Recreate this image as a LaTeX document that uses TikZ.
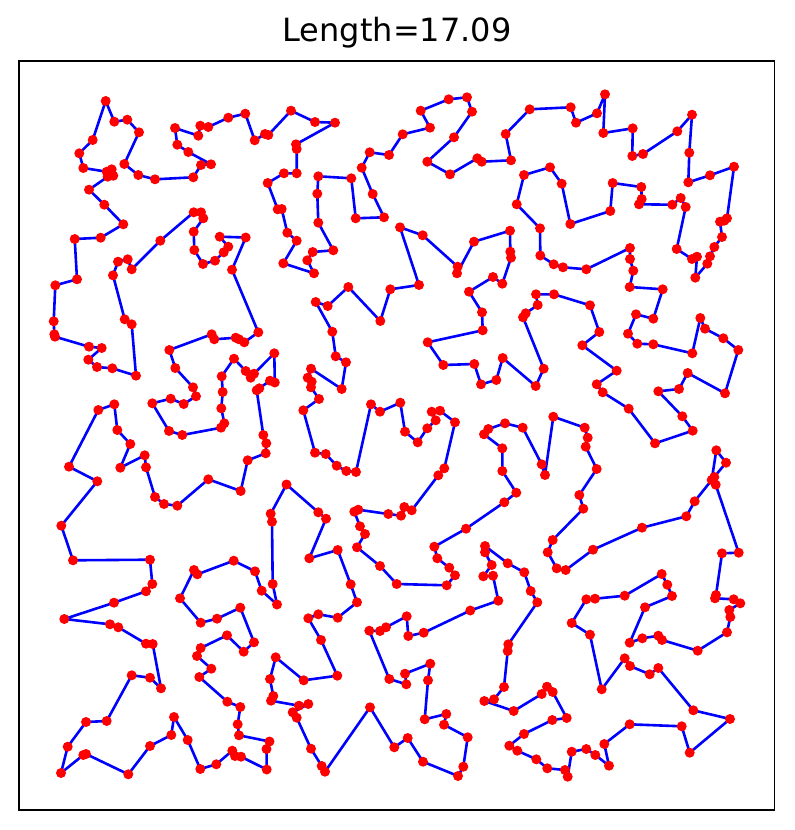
\documentclass[tikz,border=0pt]{standalone}
\usepackage{fontspec}
\setmainfont{DejaVu Sans}
\begin{document}
\def\pts{105.7/101, 114.3/121.7, 127.3/119.7, 139/132.3, 124.3/164, 138.3/175, 155/179.3, 193.3/177.3, 201/165, 211/164.3, 188.3/152, 177.3/144.7, 175/128, 198.3/135.7, 200.3/125.7, 208.3/127, 228.3/117.7, 245.3/113.7, 254.7/140.3, 265/134, 268.3/135, 291/110.7, 315/122, 335/122.7, 296/144.3, 296.7/149, 296.7/173.3, 284/173.3, 267.7/183, 277.7/209.3, 281.7/209, 287.3/232.7, 296.7/240.7, 283.3/263.3, 314/273.3, 307.3/260.3, 312.7/252, 333.3/250.3, 318.3/222.7, 317.3/193.7, 318.3/176.3, 351.3/178.3, 355.7/218.3, 384/217.3, 372.7/194, 361.7/167.7, 369.7/152.3, 389/155, 402.7/134.3, 430/127.7, 420.7/110.7, 448.7/99.3, 467/97.3, 472/111.7, 454/137.3, 427.3/161.7, 450/174.3, 477.3/158.3, 481.7/161.7, 511/160.3, 505.7/134, 529.7/109.3, 570.7/107.3, 576/122.7, 597/113.3, 605/94.3, 603.3/133, 632.7/128.3, 632.3/156, 643/154, 677.3/131.3, 692/114.7, 689.3/152.7, 688.3/182.3, 710/175.3, 734/166.7, 727/218.3, 724.3/220.7, 720/221.7, 722/237, 714.3/247, 710/256.3, 707.3/263.7, 695.3/277.7, 697/256.7, 692/259, 676.7/249, 685.7/207, 680.7/198, 672.3/204.7, 639/204.3, 641.7/199, 641.3/187, 612.7/183, 610.3/211, 570.3/224, 561.7/183.7, 550/167.3, 524/175, 516.7/204.3, 540/228.3, 540.3/255.5, 553.7/264.3, 563/267.3, 586.3/269.3, 630/248, 630/259, 633.3/270.7, 629.7/287, 662.7/289.3, 653.3/318.7, 636/314.3, 628/333.7, 637.3/343.7, 653.3/344.3, 692.3/353.3, 700.3/318, 705/328.7, 723.3/338.3, 738.3/350, 725/393.3, 687.7/373, 679/389, 658.3/391.3, 682.3/416.3, 692.7/430.7, 655/443.3, 628.7/408.7, 602.7/392.3, 596.7/384.3, 616.7/370.7, 582.3/345.3, 599.3/332, 590/305.3, 554/294.3, 536/294.3, 537.7/305, 525.7/313.3, 523/317.3, 543.7/368.7, 535.7/386, 502.7/358, 496.3/380, 481/384.3, 474.3/364, 443.3/365, 427.7/342.3, 482.7/330.3, 482/312.3, 469/291.7, 493/277, 502.3/283.7, 511/257.7, 510.3/251.7, 510/230.7, 474/241.7, 457/273.3, 457.7/266.7, 422.7/235.3, 400/227.3, 419/285, 390.3/289.3, 380.3/321, 348.3/287, 327.7/306, 315.7/302, 332.3/331.7, 335.7/356.3, 346/362.3, 341.7/389, 311/368.7, 307.7/377.7, 311.7/381.7, 311/387.3, 319/399, 303.3/410.3, 315/452.7, 325.7/454, 336.7/465.7, 346.3/471, 356/472, 371/404.3, 380/411.7, 400.3/402.7, 405/431.7, 417.7/442.3, 427.3/428.3, 435.7/420.3, 431.7/411.7, 440/410.7, 455/422.3, 444.3/468.3, 438.3/475.3, 411.7/510.3, 404.3/507, 401/515.7, 388.3/514, 358.3/509.7, 354.3/511.7, 360/526.3, 365/534, 357/547.3, 380/566, 396.7/584, 446.7/585.3, 455/575.3, 449.3/567.7, 437.3/558.3, 434.3/546.7, 466/528.7, 504.3/502.3, 516.3/492.7, 502.3/471, 502.3/448.3, 484/434.3, 488.3/429, 505/423.3, 522.7/427.7, 541.7/464.3, 545/475, 553.3/416.7, 584.7/427.7, 587.7/437.7, 585.7/446.7, 596.7/469, 579.3/495, 583.3/508.7, 552.7/540, 547.7/552.3, 556.7/568.3, 565.7/570, 593/549.7, 642/527.7, 686.3/516.3, 694.7/501.3, 711.7/480, 716.3/450.3, 726/462.7, 714.3/477, 715.7/484.7, 738.7/552.7, 722/553.3, 716/595, 715/598.3, 733.7/599.3, 740.3/603.3, 729.3/610, 730.3/617, 727/632.3, 697.7/650.7, 662/640, 658.3/635.7, 642.3/638.3, 629.7/642.7, 645/607.3, 672/596, 667.3/584.7, 661.7/574, 624.7/595.7, 595/598.7, 586.3/599.3, 571.7/623, 590/634.7, 601.7/689.3, 624.7/658.3, 630/666, 649.7/674.3, 658.3/668, 693.3/710.3, 730/719, 689.7/752.7, 681.7/726.3, 629.7/724.3, 604.3/744, 609/765.7, 595.3/755, 586.3/749, 571.7/751.7, 567.7/776.7, 565/770, 547.3/768.3, 536.3/759.3, 517.3/750.7, 509.3/745.7, 524/734, 552.3/720, 566.7/718, 552.7/692, 547/686.7, 541.7/694, 513.7/711, 484.3/701, 494/699.3, 504/687, 507.7/651, 508.3/644.3, 537.3/602.3, 530.7/591, 524.3/572.3, 507.7/563.3, 485/546, 485/552.3, 491.7/565, 483.3/576.3, 493/575.7, 498.3/600.7, 470.3/610.5, 423.7/632.7, 408.3/636, 406.7/616.3, 386/627.3, 380/631, 369.3/630.7, 389.3/679, 406.3/684.3, 405/673.7, 430.3/663.7, 428/680.3, 424.7/719.3, 446.3/714, 444/724.7, 467.7/737.3, 463.3/766.7, 458/776, 423/761.7, 407.7/738, 394.3/747.3, 370/707.3, 325/771.7, 321.7/766, 311/748.7, 296.7/717.7, 292.7/712.3, 308.3/704, 299/705.7, 271/700.7, 273.3/696, 270/679, 275.7/657.3, 303.7/680.3, 337.3/675.7, 321/640, 308.3/618.3, 318.3/614.3, 337.7/617.7, 357/602.3, 350.7/584.3, 337.7/550, 309.3/558.3, 326/518.7, 318.3/512.3, 286.5/484.5, 270.7/513.7, 272/521.7, 272.7/584, 277/604.5, 261.7/590.7, 255/571.3, 233.7/560.7, 197.3/574.3, 194/570, 180/598.3, 200.7/622.7, 217/618.7, 240.3/607.7, 254/642.3, 243.7/651.7, 227/635.3, 200.7/648, 197/656, 211.3/668.7, 199.3/677, 227.3/701.7, 240.3/707, 237.7/724.3, 239/735.3, 269.5/741.5, 266.5/749, 266.7/769.5, 241/756.7, 235/756, 232.3/750.7, 216.3/764.3, 200.3/769, 187.7/740, 174/717, 171.3/735, 150/746, 128.3/774.3, 86/754, 83.3/755, 61/773, 67.7/746.7, 86/722, 106.7/721, 131.7/675.3, 150/677.7, 161/688.3, 152.7/644, 146/643.7, 118.3/627.3, 110/624.3, 64.3/619, 114/602.7, 146/591.3, 152.3/584, 150/559.7, 73/560.3, 61.3/525.7, 97.3/481.3, 69/466.7, 98.3/410, 114.3/404.3, 117.3/430, 130.3/444, 120.3/467.7, 144.7/455.3, 146/467.3, 155/497, 164/504, 177.3/505.7, 208.3/479.3, 240.7/491, 247.7/460.3, 265.7/453.3, 266.3/443.3, 263.3/435, 256.7/390.3, 259.3/388.3, 270/380.7, 274.8/382.5, 274.3/353.3, 254/373.7, 250.7/377.7, 245.7/371, 234/358.7, 221.7/376.3, 222.7/392, 221.3/408.3, 224.3/423.3, 221/427.7, 182.3/435, 169/431, 152.3/403.3, 170.7/398.7, 183.7/404, 196/396.3, 193/387.3, 175.3/368, 169.3/350, 211.7/334.3, 214.3/339.3, 235.7/337.7, 239/339.3, 244.3/342.3, 258.3/332.3, 232/269.7, 245.7/237.5, 219.7/236.7, 228.3/246.7, 223.7/252.3, 215/260.7, 203/264, 194.3/250, 193.7/231.7, 203.3/218.3, 201/212.3, 193.7/212.3, 160.3/240.7, 131.7/269.3, 127.7/259.3, 118/261.7, 113/275.3, 124.7/319.3, 131.7/324.3, 136/375.7, 112.3/368.3, 97/367, 88.3/359.7, 101.7/348, 89/346.7, 55/336.7, 54.3/334.3, 53.7/321.3, 55.3/285.3, 77/279.3, 74.7/239, 100.7/237.7, 123.3/224.3, 104.3/204.7, 89/189.7, 107.7/176.7, 113.3/175.7, 111.7/169.3, 106.7/171.7, 83.3/168, 79.3/153.3, 92.7/140}
\begin{tikzpicture}[x=0.5pt,y=-0.5pt,
  tour/.style={draw=blue,line width=1.3pt,line join=round},
  city/.style={fill=red},
  frame/.style={draw=black,line width=0.8pt}]
\useasboundingbox (0,0) rectangle (794,830);
\fill[white] (0,0) rectangle (794,830);
\draw[frame] (19,61) rectangle (774.5,810);
\node[font=\fontsize{16}{19}\selectfont,inner sep=0pt] (title) at (397,33) {Length=17.09};
\draw[tour] (105.7,101) \foreach \x/\y in \pts { -- (\x,\y) } -- cycle;
\foreach \x/\y in \pts { \fill[city] (\x,\y) circle[radius=2.5pt]; }
\end{tikzpicture}
\end{document}
